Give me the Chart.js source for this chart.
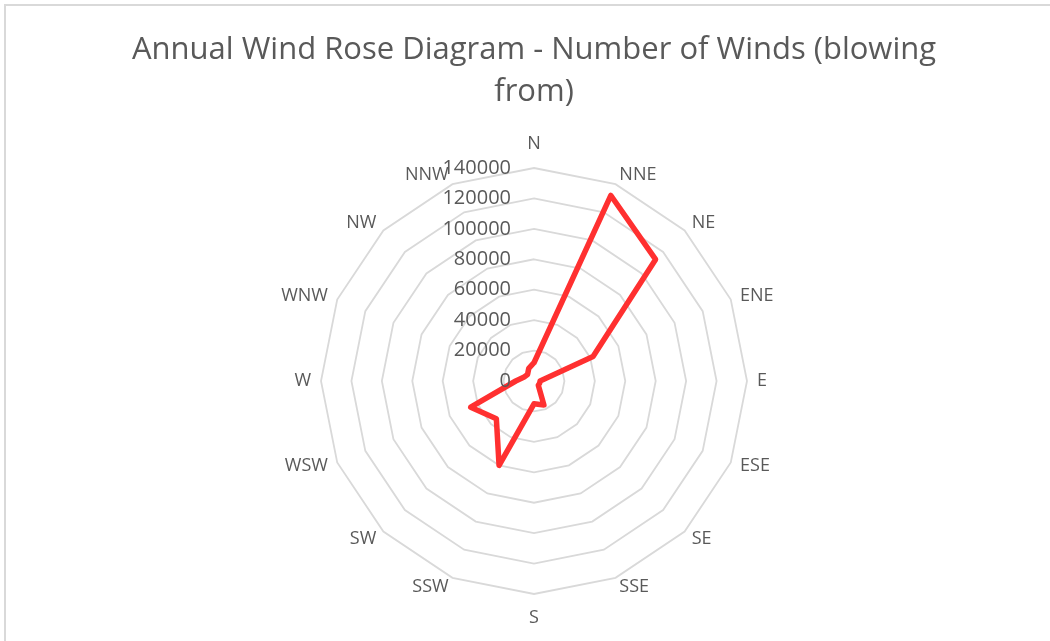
<!DOCTYPE html>
<html>
<head>
<meta charset="utf-8">
<title>Annual Wind Rose</title>
<script src="https://cdn.jsdelivr.net/npm/chart.js@4.4.0/dist/chart.umd.min.js"></script>
<style>
html, body { margin: 0; padding: 0; background: #fff; }
#windChart { display: block; }
</style>
</head>
<body>
<canvas id="windChart" width="1050" height="641"></canvas>
<script>
// wind directions (blowing from), clockwise from N
var directions = ["N", "NNE", "NE", "ENE", "E", "ESE", "SE", "SSE",
                  "S", "SSW", "SW", "WSW", "W", "WNW", "NW", "NNW"];
// number of winds per direction
var windCounts = [12000, 132000, 113000, 42000, 4000, 4000, 4000, 17000,
                  15000, 60000, 35000, 45000, 12000, 7000, 6000, 9000];
// radial tick labels
var tickValues = [0, 20000, 40000, 60000, 80000, 100000, 120000, 140000];

var titleLines = ["Annual Wind Rose Diagram - Number of Winds (blowing", "from)"];

// light frame on top and left edge
var framePlugin = {
	id: "frame",
	beforeDraw: function(chart){
		var ctx = chart.ctx;
		ctx.save();
		ctx.strokeStyle = "#d9d9d9";
		ctx.lineWidth = 2;
		ctx.beginPath();
		ctx.moveTo(5, chart.height);
		ctx.lineTo(5, 5);
		ctx.lineTo(chart.width, 5);
		ctx.stroke();
		ctx.restore();
	}
};

// direction labels placed beside the outer ring vertices, Excel style
var dirLabelPlugin = {
	id: "dirLabels",
	afterDraw: function(chart){
		var scale = chart.scales.r;
		var ctx = chart.ctx;
		var outer = scale.getDistanceFromCenterForValue(scale.max);
		ctx.save();
		ctx.font = '18px "Open Sans"';
		ctx.fillStyle = "#595959";
		ctx.textAlign = "center";
		ctx.textBaseline = "middle";
		for(var i = 0; i < directions.length; i++){
			var p = scale.getPointPosition(i, outer);
			var a = scale.getIndexAngle(i);
			var s = Math.sin(a), c = Math.cos(a);
			var w = ctx.measureText(directions[i]).width;
			var x = p.x, y = p.y;
			if(Math.abs(s) < 0.01){
				y -= c * 24;
			}else{
				x += s * 10 + (s > 0 ? 1 : -1) * w / 2;
				y -= c * 10;
			}
			ctx.fillText(directions[i], x, y);
		}
		ctx.restore();
	}
};

// tick labels right-aligned to the left of the N axis, like Excel does
var tickLabelPlugin = {
	id: "tickLabels",
	afterDatasetsDraw: function(chart){
		var scale = chart.scales.r;
		var ctx = chart.ctx;
		ctx.save();
		ctx.font = '20px "Open Sans"';
		ctx.fillStyle = "#595959";
		ctx.textAlign = "right";
		ctx.textBaseline = "middle";
		for(var i = 0; i < tickValues.length; i++){
			var d = scale.getDistanceFromCenterForValue(tickValues[i]);
			ctx.fillText(String(tickValues[i]), scale.xCenter - 23, scale.yCenter - d);
		}
		ctx.restore();
	}
};

var ctx = document.getElementById("windChart").getContext("2d");
var chart = new Chart(ctx, {
	type: "radar",
	data: {
		labels: directions,
		datasets: [{
			label: "Number of Winds",
			data: windCounts,
			borderColor: "#ff3030",
			backgroundColor: "rgba(0,0,0,0)",
			borderWidth: 5.5,
			borderJoinStyle: "round",
			fill: false,
			pointRadius: 0,
			pointHoverRadius: 0,
			tension: 0
		}]
	},
	options: {
		responsive: false,
		animation: false,
		devicePixelRatio: 1,
		layout: {
			padding: { left: 18, right: 0, top: 0, bottom: 46 }
		},
		plugins: {
			legend: { display: false },
			tooltip: { enabled: false },
			title: {
				display: true,
				text: titleLines,
				color: "#595959",
				font: { family: '"Open Sans"', size: 31, weight: "normal", lineHeight: 1.36 },
				padding: { top: 29, bottom: 54 }
			}
		},
		scales: {
			r: {
				min: 0,
				max: 140000,
				ticks: { stepSize: 20000, display: false },
				grid: { color: "#d9d9d9", lineWidth: 1.8 },
				angleLines: { display: false },
				pointLabels: { display: false }
			}
		}
	},
	plugins: [framePlugin, dirLabelPlugin, tickLabelPlugin]
});
</script>
</body>
</html>
